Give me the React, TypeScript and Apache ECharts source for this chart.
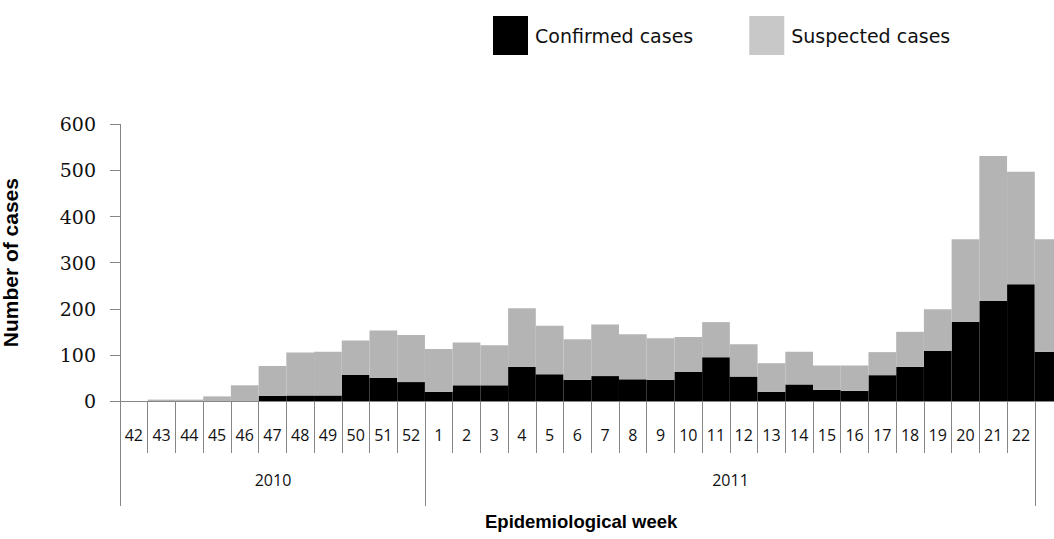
import React, { useEffect, useRef } from "react";
import * as echarts from "echarts";

const weeks = ["42","43","44","45","46","47","48","49","50","51","52","1","2","3","4","5","6","7","8","9","10","11","12","13","14","15","16","17","18","19","20","21","22",""];
const confirmed = [0,0,0,0,0,11,12,12,57,50,41,20,34,34,74,58,46,54,47,46,63,95,53,20,36,24,22,56,74,109,172,217,253,107];
const suspected = [0,3,3,10,34,65,93,95,74,103,102,93,93,87,127,105,88,112,98,90,76,76,70,62,71,53,55,50,76,90,179,314,244,244];
const yearLabels = ["2010", "2011"];
const yearStart = [0, 11];
const yearEnd = [10, 32];
const yTicks = { min: 0, max: 600, interval: 100 };

const AXIS = "#868686";

export default function App() {
  const ref = useRef<HTMLDivElement>(null);
  useEffect(() => {
    if (!ref.current) return;
    const chart = echarts.init(ref.current, null, { renderer: "svg" });
    chart.setOption({
      animation: false,
      backgroundColor: "#ffffff",
      legend: {
        left: 488,
        top: 11,
        itemWidth: 35,
        itemHeight: 39,
        itemGap: 56,
        icon: "rect",
        selectedMode: false,
        textStyle: { fontFamily: "DejaVu Sans", fontSize: 19, color: "#111", padding: [0, 0, 0, 2] },
        data: [
          { name: "Confirmed cases", itemStyle: { color: "#000000" } },
          { name: "Suspected cases", itemStyle: { color: "#c8c8c8" } },
        ],
      },
      grid: { left: 120, top: 124.3, width: 942.5, height: 276.7, outerBoundsMode: "none" },
      xAxis: {
        type: "category",
        data: weeks,
        axisLine: { show: true, lineStyle: { color: AXIS, width: 1 } },
        axisTick: { show: true, interval: 0, length: 52, lineStyle: { color: AXIS, width: 1 } },
        axisLabel: { interval: 0, margin: 26, fontFamily: "Open Sans", fontSize: 16, color: "#111" },
        splitLine: { show: false },
      },
      yAxis: {
        type: "value",
        min: yTicks.min,
        max: yTicks.max,
        interval: yTicks.interval,
        name: "Number of cases",
        nameLocation: "middle",
        nameRotate: 90,
        nameGap: 99,
        nameTextStyle: { fontFamily: "Liberation Sans", fontWeight: "bold", fontSize: 21, color: "#000" },
        axisLine: { show: true, lineStyle: { color: AXIS, width: 1 } },
        axisTick: { show: true, length: 10, lineStyle: { color: AXIS, width: 1 } },
        axisLabel: { margin: 24, fontFamily: "DejaVu Serif", fontSize: 19, color: "#111" },
        splitLine: { show: false },
      },
      series: [
        {
          name: "Confirmed cases",
          type: "bar",
          stack: "cases",
          barWidth: "100%",
          barCategoryGap: 0,
          itemStyle: { color: "#000000" },
          data: confirmed,
        },
        {
          name: "Suspected cases",
          type: "bar",
          stack: "cases",
          barWidth: "100%",
          barCategoryGap: 0,
          itemStyle: { color: "#b4b4b4" },
          data: suspected,
        },
        {
          name: "years",
          type: "custom",
          silent: true,
          clip: false,
          z: 1,
          encode: { x: 0, y: 1 },
          data: yearStart.map((s, i) => [s, 0, yearEnd[i]]),
          renderItem: (params: any, api: any) => {
            const i = params.dataIndex;
            const s = api.value(0);
            const e = api.value(2);
            const bw = api.size([1, 0])[0];
            const p0 = api.coord([s, 0]);
            const p1 = api.coord([e, 0]);
            const x0 = Math.round(p0[0] - bw / 2) + 0.5;
            const x1 = Math.round(p1[0] + bw / 2) + 0.5;
            const y = p0[1];
            return {
              type: "group",
              children: [
                { type: "line", shape: { x1: x0, y1: y, x2: x0, y2: y + 105 }, style: { stroke: AXIS, lineWidth: 1 } },
                { type: "line", shape: { x1: x1, y1: y, x2: x1, y2: y + 105 }, style: { stroke: AXIS, lineWidth: 1 } },
                {
                  type: "text",
                  x: (x0 + x1) / 2,
                  y: y + 79,
                  style: {
                    text: yearLabels[i],
                    fill: "#111",
                    fontFamily: "Open Sans",
                    fontSize: 16,
                    align: "center",
                    verticalAlign: "middle",
                  },
                },
              ],
            };
          },
        },
      ],
      graphic: [
        {
          type: "text",
          left: 581 - 96,
          top: 512,
          style: {
            text: "Epidemiological week",
            fill: "#000",
            fontFamily: "Liberation Sans",
            fontWeight: "bold",
            fontSize: 18.5,
          },
        },
      ],
    });
    return () => chart.dispose();
  }, []);
  return (
    <div style={{ position: "absolute", left: 0, top: 0, width: 1054, height: 539, overflow: "hidden", background: "#fff" }}>
      <div ref={ref} style={{ width: 1080, height: 539 }} />
    </div>
  );
}
